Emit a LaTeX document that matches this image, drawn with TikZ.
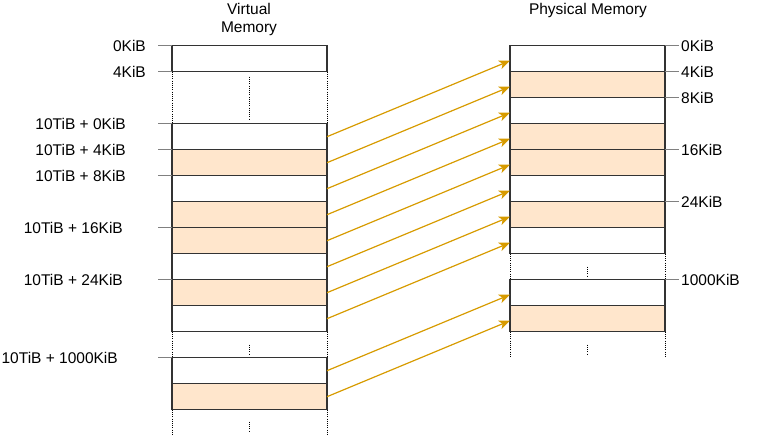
\documentclass[tikz,border=0pt]{standalone}
\usepackage{fontspec}
\setmainfont{Liberation Sans}
\usetikzlibrary{arrows.meta}
\definecolor{pagefill}{HTML}{FFE6CC}
\definecolor{boxline}{HTML}{333333}
\definecolor{arrowcol}{HTML}{D79B00}
\definecolor{tickcol}{HTML}{808080}
\tikzset{
  page/.style={draw=boxline, line width=1.3pt, minimum width=155pt, minimum height=26pt, inner sep=0pt, outer sep=0pt, anchor=north west},
  used/.style={page, fill=pagefill},
  free/.style={page, fill=white},
  lbl/.style={font=\fontsize{15.5pt}{18pt}\selectfont, inner sep=0pt, text=black},
  tick/.style={draw=tickcol, line width=1.3pt},
  gapline/.style={draw=black, line width=0.8pt, dash pattern=on 1pt off 1.2pt},
  maparrow/.style={draw=arrowcol, line width=1.2pt, -{Stealth[length=11pt,width=9pt,inset=3pt]}},
}
\begin{document}
\begin{tikzpicture}[x=1pt,y=-1pt]
\useasboundingbox (0,0) rectangle (760,439);
% titles
\node[lbl, anchor=base] (tv1) at (249,14) {Virtual};
\node[lbl, anchor=base] (tv2) at (249,32) {Memory};
\node[lbl, anchor=base] (tp) at (588,14) {Physical Memory};
% virtual memory
\node[free] (v0) at (172,45.7) {};
\node[free] (v1) at (172,123.7) {};
\node[used] (v2) at (172,149.7) {};
\node[free] (v3) at (172,175.7) {};
\node[used] (v4) at (172,201.7) {};
\node[used] (v5) at (172,227.7) {};
\node[free] (v6) at (172,253.7) {};
\node[used] (v7) at (172,279.7) {};
\node[free] (v8) at (172,305.7) {};
\node[free] (v9) at (172,357.7) {};
\node[used] (v10) at (172,383.7) {};
% physical memory
\node[free] (p1) at (510,45.7) {};
\node[used] (p2) at (510,71.7) {};
\node[free] (p3) at (510,97.7) {};
\node[used] (p4) at (510,123.7) {};
\node[used] (p5) at (510,149.7) {};
\node[free] (p6) at (510,175.7) {};
\node[used] (p7) at (510,201.7) {};
\node[free] (p8) at (510,227.7) {};
\node[free] (p9) at (510,279.7) {};
\node[used] (p10) at (510,305.7) {};
% gaps (virtual)
\draw[gapline] (v0.south west) -- (v1.north west);
\draw[gapline] (v0.south east) -- (v1.north east);
\draw[gapline] ([yshift=-5pt]v0.south) -- ([yshift=4pt]v1.north);
\draw[gapline] (v8.south west) -- (v9.north west);
\draw[gapline] (v8.south east) -- (v9.north east);
\draw[gapline] ([yshift=-13pt]v8.south) -- ([yshift=4pt]v9.north);
\coordinate (vbl) at ([yshift=-26pt]v10.south west);
\coordinate (vbr) at ([yshift=-26pt]v10.south east);
\coordinate (vbm) at ([yshift=-22pt]v10.south);
\draw[gapline] (v10.south west) -- (vbl);
\draw[gapline] (v10.south east) -- (vbr);
\draw[gapline] ([yshift=-12pt]v10.south) -- (vbm);
% gaps (physical)
\draw[gapline] (p8.south west) -- (p9.north west);
\draw[gapline] (p8.south east) -- (p9.north east);
\draw[gapline] ([yshift=-13pt]p8.south) -- ([yshift=4pt]p9.north);
\coordinate (pbl) at ([yshift=-26pt]p10.south west);
\coordinate (pbr) at ([yshift=-26pt]p10.south east);
\coordinate (pbm) at ([yshift=-22pt]p10.south);
\draw[gapline] (p10.south west) -- (pbl);
\draw[gapline] (p10.south east) -- (pbr);
\draw[gapline] ([yshift=-13pt]p10.south) -- (pbm);
% ticks and labels (virtual)
\draw[tick] ([xshift=-14pt]v0.north west) -- (v0.north west);
\draw[tick] ([xshift=-14pt]v0.south west) -- (v0.south west);
\draw[tick] ([xshift=-14pt]v1.north west) -- (v1.north west);
\draw[tick] ([xshift=-14pt]v2.north west) -- (v2.north west);
\draw[tick] ([xshift=-14pt]v3.north west) -- (v3.north west);
\draw[tick] ([xshift=-14pt]v5.north west) -- (v5.north west);
\draw[tick] ([xshift=-14pt]v7.north west) -- (v7.north west);
\draw[tick] ([xshift=-14pt]v9.north west) -- (v9.north west);
\node[lbl, anchor=east] (lv0) at (146,45.7) {0KiB};
\node[lbl, anchor=east] (lv0b) at (146,71.7) {4KiB};
\node[lbl, anchor=east] (lv1) at (126,123.7) {10TiB + 0KiB};
\node[lbl, anchor=east] (lv2) at (126,149.7) {10TiB + 4KiB};
\node[lbl, anchor=east] (lv3) at (126,175.7) {10TiB + 8KiB};
\node[lbl, anchor=east] (lv5) at (123,227.7) {10TiB + 16KiB};
\node[lbl, anchor=east] (lv7) at (123,279.7) {10TiB + 24KiB};
\node[lbl, anchor=east] (lv9) at (118,357.7) {10TiB + 1000KiB};
% ticks and labels (physical)
\draw[tick] (p1.north east) -- ([xshift=14pt]p1.north east);
\draw[tick] (p2.north east) -- ([xshift=14pt]p2.north east);
\draw[tick] (p3.north east) -- ([xshift=14pt]p3.north east);
\draw[tick] (p5.north east) -- ([xshift=14pt]p5.north east);
\draw[tick] (p7.north east) -- ([xshift=14pt]p7.north east);
\draw[tick] (p9.north east) -- ([xshift=14pt]p9.north east);
\node[lbl, anchor=west] (lp1) at (681,45.7) {0KiB};
\node[lbl, anchor=west] (lp2) at (681,71.7) {4KiB};
\node[lbl, anchor=west] (lp3) at (681,97.7) {8KiB};
\node[lbl, anchor=west] (lp5) at (681,149.7) {16KiB};
\node[lbl, anchor=west] (lp7) at (681,201.7) {24KiB};
\node[lbl, anchor=west] (lp9) at (681,279.7) {1000KiB};
% mapping arrows
\foreach \i in {1,...,10} {
  \draw[maparrow] (v\i.east) -- ([yshift=-2pt]p\i.west);
}
\end{tikzpicture}
\end{document}
